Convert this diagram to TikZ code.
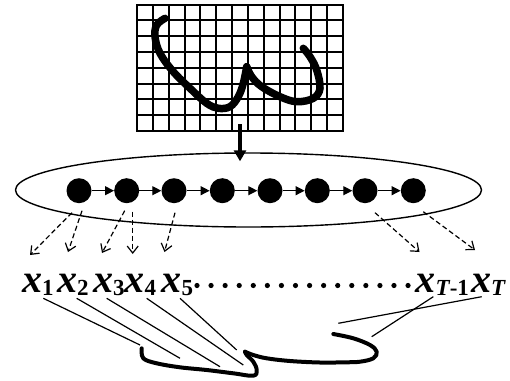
\documentclass[tikz,border=0pt]{standalone}
\usepackage{fontspec}
\setmainfont{Liberation Serif}
\usetikzlibrary{arrows.meta,calc,shapes.geometric}
% lowered subscript for the observation labels
\newcommand\lsub[1]{\raisebox{-3.3pt}{\fontsize{23}{23}\selectfont\bfseries\upshape #1}}

\begin{document}
\begin{tikzpicture}[x=1pt,y=-1pt,
  state/.style={circle,fill=black,minimum size=25pt,inner sep=0pt},
  obs/.style={anchor=base west,inner sep=0pt,font=\fontsize{40}{40}\selectfont\bfseries\itshape},
  chain/.style={line width=1.2pt,-{Triangle[length=9pt,width=9pt]}},
  emit/.style={line width=1.2pt,dash pattern=on 5pt off 3pt,-{Straight Barb[length=7pt,width=11pt,line width=1.2pt]}},
  link/.style={line width=1.2pt},
  ink/.style={line cap=round,line join=round},
  gridline/.style={line width=2pt}
]
\useasboundingbox (0,0) rectangle (510,380);

% writing pad with its grid
\node[draw,gridline,minimum width=206pt,minimum height=126.5pt,inner sep=0pt] (pad) at (240,67.75) {};
\foreach \i in {1,...,12} \draw[gridline] (137+\i*15.846,4.5) -- (137+\i*15.846,131);
\foreach \j in {1,...,7} \draw[gridline] (137,4.5+\j*15.81) -- (343,4.5+\j*15.81);

% the handwritten stroke on the pad
\draw[ink,line width=7.5pt] plot[smooth,tension=0.6] coordinates {
  (165,18.3) (156.7,25) (155,36.7) (160,53.3) (173.3,71.7) (190,88.3)
  (206.7,103.3) (218.3,108.3) (230,106.7) (238.3,96.7) (243.3,83.3) (246.7,66.7)};
\draw[ink,line width=7.5pt] plot[smooth,tension=0.6] coordinates {
  (246.7,66.7) (251.7,76.7) (261.7,86.7) (280,96.7) (296.7,101.7) (313.3,98.3)
  (320,88.3) (316.7,70) (310,56.7) (303.3,48.3)};

% state sequence
\node[draw,ellipse,line width=1.4pt,minimum width=466pt,minimum height=74pt,inner sep=0pt] (ell) at (248.5,190) {};
\draw[line width=3.3pt,-{Triangle[length=11pt,width=12pt]}]
  ([yshift=8pt]pad.south) -- ([yshift=-9pt]pad.south |- ell.north);

\foreach \i/\x in {1/79,2/126.7,3/174,4/222.3,5/270,6/317.3,7/365,8/413.3}
  \node[state] (s\i) at (\x,190.7) {};
\foreach \i [evaluate=\i as \j using int(\i+1)] in {1,...,7}
  \draw[chain] (s\i) -- (s\j);

% observations
\node[obs] (x1) at (22,292) {x\lsub{1}};
\node[obs] (x2) at (57,292) {x\lsub{2}};
\node[obs] (x3) at (93,292) {x\lsub{3}};
\node[obs] (x4) at (124.5,292) {x\lsub{4}};
\node[obs] (x5) at (161.5,292) {x\lsub{5}};
\node[obs] (x6) at (415.5,292) {x\lsub{\itshape T\upshape -1}};
\node[obs] (x7) at (471,292) {x\lsub{\itshape T}};
\foreach \k in {0,...,15} \fill (197+\k*14.07,285.5) circle (2.6);

% emissions
\draw[emit] ([shift={(-7,22)}]s1.center) -- ([shift={(8,-37)}]x1.base west);
\draw[emit] ([shift={(3,20)}]s1.center) -- ([shift={(11,-40)}]x2.base west);
\draw[emit] ([shift={(-2,20)}]s2.center) -- ([shift={(9,-39)}]x3.base west);
\draw[emit] ([shift={(6,21)}]s2.center) -- ([shift={(8.2,-38)}]x4.base west);
\draw[emit] ([shift={(1,22)}]s3.center) -- ([shift={(3,-40)}]x5.base west);
\draw[emit] ([shift={(10,22)}]s7.center) -- ([shift={(4,-40)}]x6.base west);
\draw[emit] ([shift={(10,21)}]s8.center) -- ([shift={(4,-42)}]x7.base west);

% the written word below
\draw[ink,line width=4pt] plot[smooth,tension=0.6] coordinates {
  (141.7,348.3) (143.3,358.3) (156.7,363.3) (180,367.3) (206.7,370) (233.3,373.3)
  (253.3,375.7) (256.7,370) (253.3,361.7) (246.7,355) (245,351.7)};
\draw[ink,line width=4pt] plot[smooth,tension=0.6] coordinates {
  (245,351.7) (253.3,355) (266.7,358.3) (290,361) (320,362.5) (345,362.3)
  (360,361.7) (373.3,358.3) (376.7,351.7) (370,345) (353.3,338.3) (333.3,334)};

\coordinate (c1) at (140,345);
\coordinate (c2) at (180,358.3);
\coordinate (c3) at (220,366.7);
\coordinate (c4) at (243.3,365);
\coordinate (c5) at (236.7,350);
\coordinate (c6) at (371.7,336.7);
\coordinate (c7) at (338.3,323.3);

\draw[link] ([shift={(21.3,6.3)}]x1.base west) -- (c1);
\draw[link] ([shift={(19.7,6.3)}]x2.base west) -- (c2);
\draw[link] ([shift={(13.7,6.3)}]x3.base west) -- (c3);
\draw[link] ([shift={(22.2,6.3)}]x4.base west) -- (c4);
\draw[link] ([shift={(18.5,6.3)}]x5.base west) -- (c5);
\draw[link] ([shift={(17.8,4.7)}]x6.base west) -- (c6);
\draw[link] ([shift={(10.7,4.7)}]x7.base west) -- (c7);
\end{tikzpicture}
\end{document}
